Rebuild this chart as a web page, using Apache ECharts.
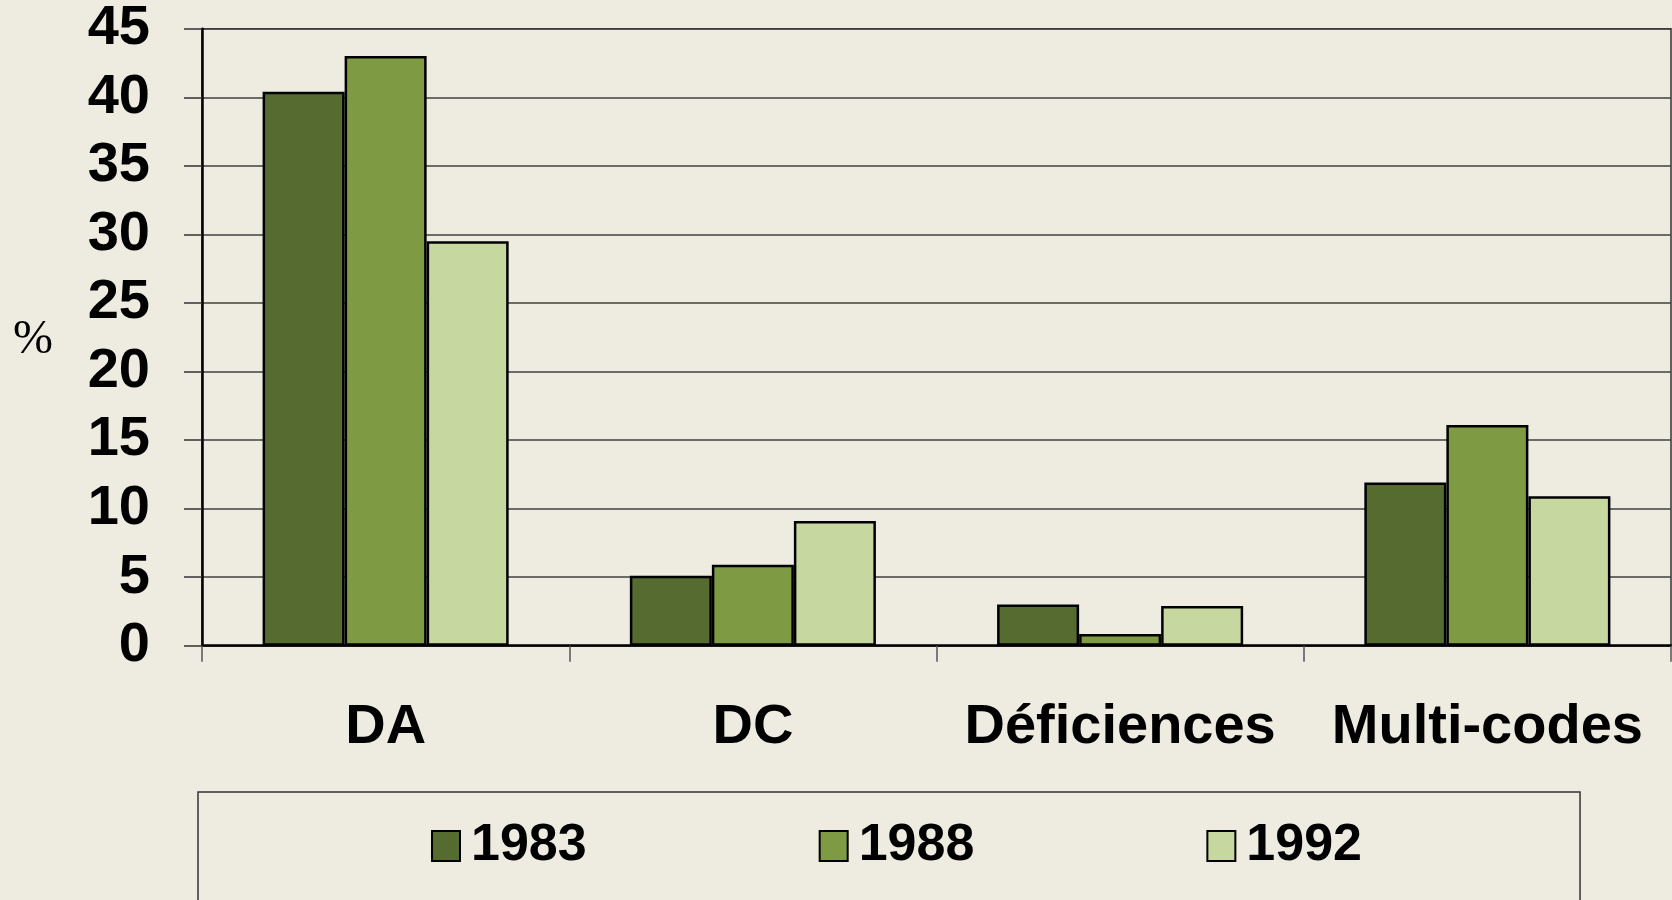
<!DOCTYPE html>
<html>
<head>
<meta charset="utf-8">
<script src="https://cdn.jsdelivr.net/npm/echarts@6/dist/echarts.min.js"></script>
<style>
html,body{margin:0;padding:0;background:#eeebe0;}
#chart{width:1672px;height:900px;}
</style>
</head>
<body>
<div id="chart"></div>
<script>
const categories = ['DA', 'DC', 'Déficiences', 'Multi-codes'];
const seriesNames = ['1983', '1988', '1992'];
const values1983 = [40.4, 5.1, 3.0, 11.9];
const values1988 = [43.0, 5.9, 0.85, 16.1];
const values1992 = [29.5, 9.1, 2.9, 10.9];
const colors = ['#566b2f', '#7e9a43', '#c6d8a0'];
const yTicks = { min: 0, max: 45, interval: 5 };
const yUnit = '%';

const chart = echarts.init(document.getElementById('chart'));
const font = '"Liberation Sans", Arial, sans-serif';
const data = [values1983, values1988, values1992];

chart.setOption({
  backgroundColor: '#eeebe0',
  animation: false,
  grid: {
    left: 202, right: 1, top: 28.7, bottom: 254.3,
    show: true, borderColor: '#333', borderWidth: 1.5, backgroundColor: 'transparent'
  },
  graphic: [{
    type: 'text',
    left: 13, top: 316,
    style: {
      text: yUnit,
      font: '48px "Liberation Serif", "Times New Roman", serif',
      fill: '#000'
    }
  }],
  legend: {
    data: seriesNames,
    left: 198, top: 792,
    padding: [28, 218, 40, 233],
    itemWidth: 28, itemHeight: 30, itemGap: 232,
    borderColor: '#333', borderWidth: 1.5,
    icon: 'rect',
    itemStyle: { borderColor: '#000', borderWidth: 2 },
    textStyle: { fontFamily: font, fontWeight: 'bold', fontSize: 52, color: '#000', padding: [0, 0, 0, 6] }
  },
  xAxis: {
    type: 'category',
    data: categories,
    axisLine: { lineStyle: { color: '#000', width: 2.5 } },
    axisTick: { show: true, interval: 0, length: 16, lineStyle: { color: '#555', width: 1.5 } },
    axisLabel: { interval: 0, margin: 54, fontFamily: font, fontWeight: 'bold', fontSize: 56, color: '#000' }
  },
  yAxis: {
    type: 'value',
    min: yTicks.min, max: yTicks.max, interval: yTicks.interval,
    axisLine: { show: true, lineStyle: { color: '#000', width: 2.5 } },
    axisTick: { show: true, length: 18, lineStyle: { color: '#333', width: 1.5 } },
    axisLabel: { margin: 52, fontFamily: font, fontWeight: 'bold', fontSize: 56, color: '#000' },
    splitLine: { show: true, lineStyle: { color: '#404040', width: 1.5 } }
  },
  series: seriesNames.map((name, i) => ({
    name: name,
    type: 'bar',
    data: data[i],
    barGap: '0%',
    barCategoryGap: '33%',
    itemStyle: { color: colors[i], borderColor: '#000', borderWidth: 2.5 }
  }))
});
</script>
</body>
</html>
